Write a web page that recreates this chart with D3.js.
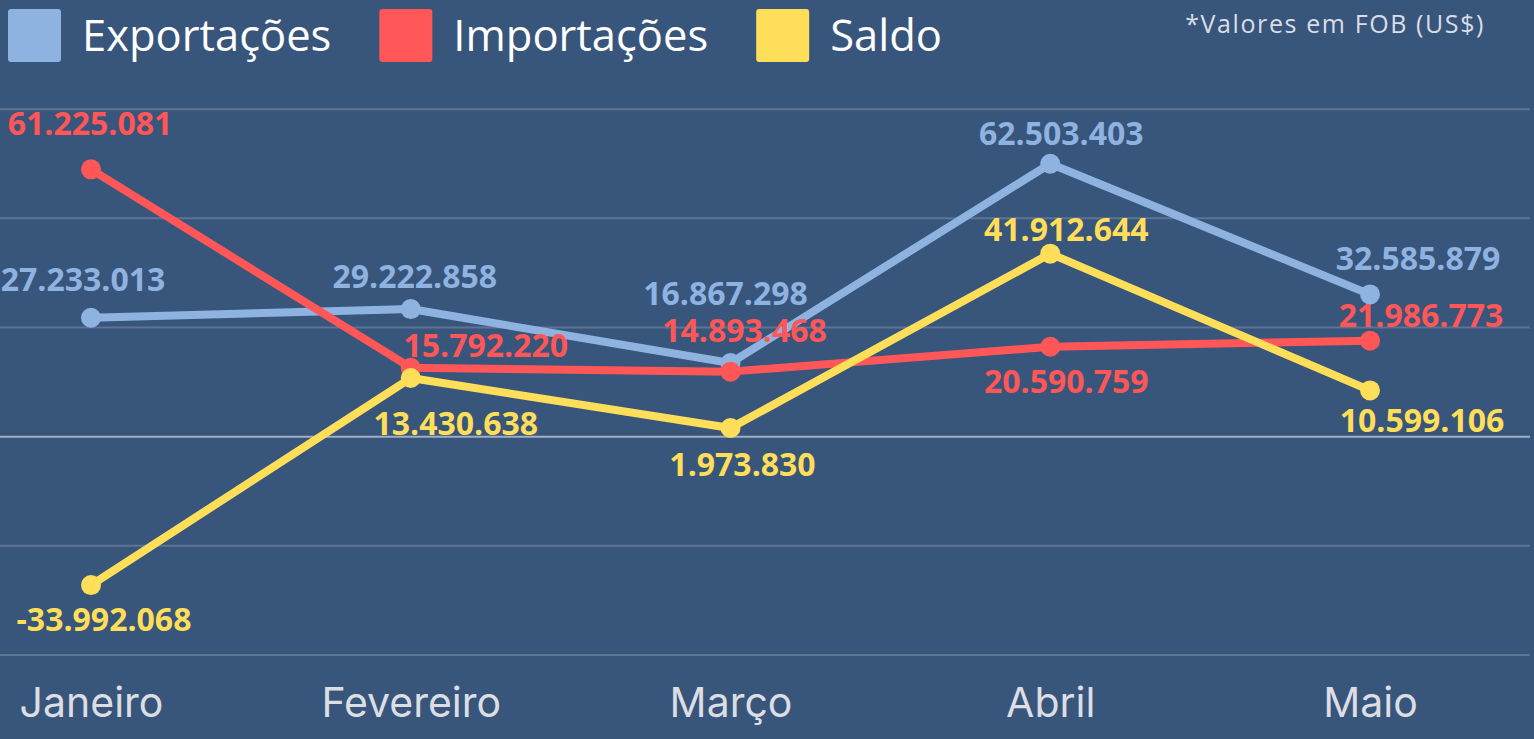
<!DOCTYPE html>
<html>
<head>
<meta charset="utf-8">
<script src="https://cdn.jsdelivr.net/npm/d3@7"></script>
<style>
  html, body { margin: 0; padding: 0; background: #38557b; overflow: hidden; }
  svg { display: block; }
</style>
</head>
<body>
<svg id="chart" width="1534" height="739"></svg>
<script>
// ---- Data ----
const months = ["Janeiro", "Fevereiro", "Março", "Abril", "Maio"];
const exportacoes = [27233013, 29222858, 16867298, 62503403, 32585879];
const importacoes = [61225081, 15792220, 14893468, 20590759, 21986773];
const saldo = [-33992068, 13430638, 1973830, 41912644, 10599106];
const seriesNames = ["Exportações", "Importações", "Saldo"];
const yTicks = [-50000000, -25000000, 0, 25000000, 50000000, 75000000];
const footnote = "*Valores em FOB (US$)";

// ---- Style / layout (not data) ----
const colors = ["#8fb3e1", "#ff5757", "#ffde59"];
// label offsets relative to each point [dx, dy]
const labelOffsets = [
  [[-8, -27], [4, -21], [-5, -58], [11, -19], [48, -24]],
  [[-1, -34], [75, -11], [14, -30], [16, 46], [51, -14]],
  [[13, 46], [45, 57], [12, 48], [16, -13], [52, 42]]
];

const svg = d3.select("#chart");

const x = d3.scalePoint().domain(months).range([91, 1370]);
const y = d3.scaleLinear().domain([-50000000, 100000000]).range([655, 0]);

// gridlines
svg.append("g").selectAll("line").data(yTicks).join("line")
  .attr("x1", 0).attr("x2", 1530)
  .attr("y1", d => y(d)).attr("y2", d => y(d))
  .attr("stroke", d => d === 0 ? "#a3aec0" : "#5e7493")
  .attr("stroke-width", 2);

// x axis labels
const xAxis = d3.axisBottom(x).tickSize(0).tickPadding(0);
const gx = svg.append("g").attr("transform", "translate(0,687)").call(xAxis);
gx.select(".domain").remove();
gx.selectAll("text")
  .attr("dy", "0.72em")
  .attr("y", 0)
  .style("font-family", "Inter, Roboto, sans-serif")
  .style("font-size", "41px")
  .style("font-weight", 400)
  .style("fill", "#dcdee3");

const series = [exportacoes, importacoes, saldo];
const fmt = v => d3.format(",")(v).replace(/,/g, ".").replace("−", "-");

const line = d3.line().x((d, i) => x(months[i])).y(d => y(d));

series.forEach((vals, s) => {
  svg.append("path").datum(vals)
    .attr("d", line)
    .attr("fill", "none")
    .attr("stroke", colors[s])
    .attr("stroke-width", 8)
    .attr("stroke-linejoin", "round");
  svg.append("g").selectAll("circle").data(vals).join("circle")
    .attr("cx", (d, i) => x(months[i]))
    .attr("cy", d => y(d))
    .attr("r", 10)
    .attr("fill", colors[s]);
});

series.forEach((vals, s) => {
  svg.append("g").selectAll("text").data(vals).join("text")
    .attr("x", (d, i) => x(months[i]) + labelOffsets[s][i][0])
    .attr("y", (d, i) => y(d) + labelOffsets[s][i][1])
    .attr("text-anchor", "middle")
    .style("font-family", "'Open Sans', sans-serif")
    .style("font-weight", 700)
    .style("font-size", "32px")
    .style("fill", colors[s])
    .text(d => fmt(d));
});

// legend
const legend = svg.append("g");
let lx = 8;
seriesNames.forEach((name, s) => {
  legend.append("rect")
    .attr("x", lx).attr("y", 9).attr("width", 53).attr("height", 53)
    .attr("rx", 3).attr("fill", colors[s]);
  const t = legend.append("text")
    .attr("x", lx + 74).attr("y", 51)
    .style("font-family", "'Open Sans', sans-serif")
    .style("font-size", "43.5px")
    .style("fill", "#ffffff")
    .text(name);
  lx = lx + 74 + t.node().getComputedTextLength() + 48;
});

svg.append("text")
  .attr("x", 1485).attr("y", 33)
  .attr("text-anchor", "end")
  .style("font-family", "'Open Sans', sans-serif")
  .style("font-size", "25px")
  .style("letter-spacing", "1.6px")
  .style("fill", "#d9dee6")
  .text(footnote);
</script>
</body>
</html>
